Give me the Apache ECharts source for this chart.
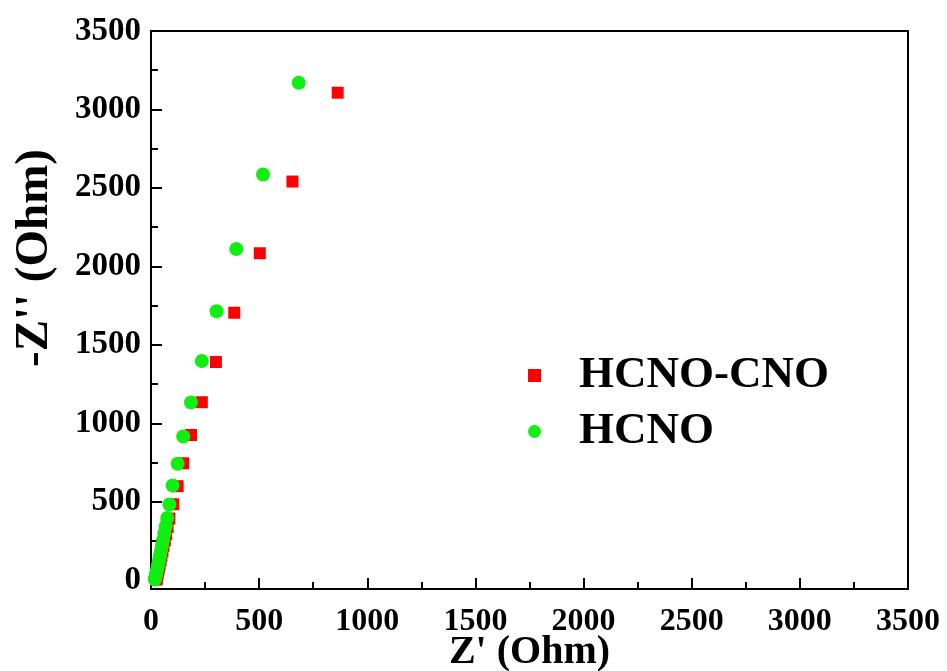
<!DOCTYPE html>
<html>
<head>
<meta charset="utf-8">
<script src="https://cdn.jsdelivr.net/npm/echarts@6/dist/echarts.min.js"></script>
<style>
  html, body { margin: 0; padding: 0; background: #ffffff; }
  #chart { width: 947px; height: 671px; }
</style>
</head>
<body>
<div id="chart"></div>
<script>
// Data (Z' in Ohm, -Z'' in Ohm)
var seriesNames = ['HCNO-CNO', 'HCNO'];
var hcnoCnoX = [863, 654, 503, 385, 300, 235, 185, 149, 123, 103, 85, 77, 70, 64, 58, 53, 48, 44, 40, 37, 34, 31, 29, 27, 26, 25];
var hcnoCnoY = [3107, 2541, 2084, 1705, 1391, 1135, 926, 746, 600, 485, 394, 340, 295, 255, 220, 185, 155, 128, 104, 83, 64, 48, 34, 22, 12, 5];
var hcnoX = [683, 518, 394, 303, 235, 185, 149, 123, 100, 85, 75, 68, 62, 56, 51, 46, 42, 38, 34, 31, 28, 25, 23, 21, 19, 18];
var hcnoY = [3170, 2586, 2111, 1715, 1398, 1133, 917, 743, 604, 483, 398, 345, 300, 258, 222, 188, 158, 130, 106, 85, 66, 50, 36, 24, 14, 6];
var xTicks = [0, 500, 1000, 1500, 2000, 2500, 3000, 3500];
var yTicks = [0, 500, 1000, 1500, 2000, 2500, 3000, 3500];

function pairs(xs, ys) {
  var out = [];
  for (var i = 0; i < xs.length; i++) out.push([xs[i], ys[i]]);
  return out;
}

var FONT = "'Liberation Serif', 'Times New Roman', serif";
var chart = echarts.init(document.getElementById('chart'), null, { renderer: 'canvas' });

var option = {
  backgroundColor: '#ffffff',
  animation: false,
  grid: {
    left: 151, right: 39, top: 31, bottom: 82,
    containLabel: false,
    outerBoundsMode: 'none',
    show: true, borderColor: '#000', borderWidth: 2, backgroundColor: 'transparent'
  },
  legend: {
    orient: 'vertical',
    left: 523, top: 348,
    itemWidth: 13, itemHeight: 13,
    itemGap: 11,
    textStyle: { fontFamily: FONT, fontWeight: 'bold', fontSize: 45, color: '#000', padding: [0, 0, 0, 33] },
    data: [
      { name: seriesNames[0], icon: 'rect' },
      { name: seriesNames[1], icon: 'circle' }
    ]
  },
  xAxis: {
    type: 'value',
    min: xTicks[0], max: xTicks[xTicks.length - 1], interval: 500,
    name: "Z' (Ohm)",
    nameLocation: 'middle', nameGap: 44,
    nameMoveOverlap: false,
    nameTextStyle: { fontFamily: FONT, fontWeight: 'bold', fontSize: 40, color: '#000' },
    axisLine: { show: true, onZero: false, lineStyle: { color: '#000', width: 2 } },
    axisTick: { show: true, inside: false, length: -11, lineStyle: { color: '#000', width: 2 } },
    minorTick: { show: true, splitNumber: 2, length: -7, lineStyle: { color: '#000', width: 2 } },
    splitLine: { show: false },
    axisLabel: {
      margin: 17, fontFamily: FONT, fontWeight: 'bold', fontSize: 32, color: '#000',
      formatter: function (v) { return String(v); }
    }
  },
  yAxis: {
    type: 'value',
    min: -55, max: yTicks[yTicks.length - 1], splitNumber: 7,
    axisLine: { show: true, onZero: false, lineStyle: { color: '#000', width: 2 } },
    axisTick: { show: true, inside: false, length: -11, lineStyle: { color: '#000', width: 2 } },
    minorTick: { show: true, splitNumber: 2, length: -7, lineStyle: { color: '#000', width: 2 } },
    splitLine: { show: false },
    axisLabel: {
      margin: 10, fontFamily: FONT, fontWeight: 'bold', fontSize: 33, color: '#000',
      showMinLabel: false,
      formatter: function (v) { return yTicks.indexOf(v) >= 0 ? String(v) : ''; }
    }
  },
  graphic: [{
    type: 'text',
    x: 35, y: 258,
    rotation: Math.PI / 2,
    style: {
      text: "-Z'' (Ohm)",
      fontFamily: FONT, fontWeight: 'bold', fontSize: 47, fill: '#000',
      align: 'center', verticalAlign: 'middle'
    }
  }],
  series: [
    {
      name: seriesNames[0], type: 'scatter',
      symbol: 'rect', symbolSize: 12,
      itemStyle: { color: '#ff0000', opacity: 1 },
      data: pairs(hcnoCnoX, hcnoCnoY)
    },
    {
      name: seriesNames[1], type: 'scatter',
      symbol: 'circle', symbolSize: 14,
      itemStyle: { color: '#11ee11', opacity: 1 },
      data: pairs(hcnoX, hcnoY)
    }
  ]
};
chart.setOption(option);
</script>
</body>
</html>
